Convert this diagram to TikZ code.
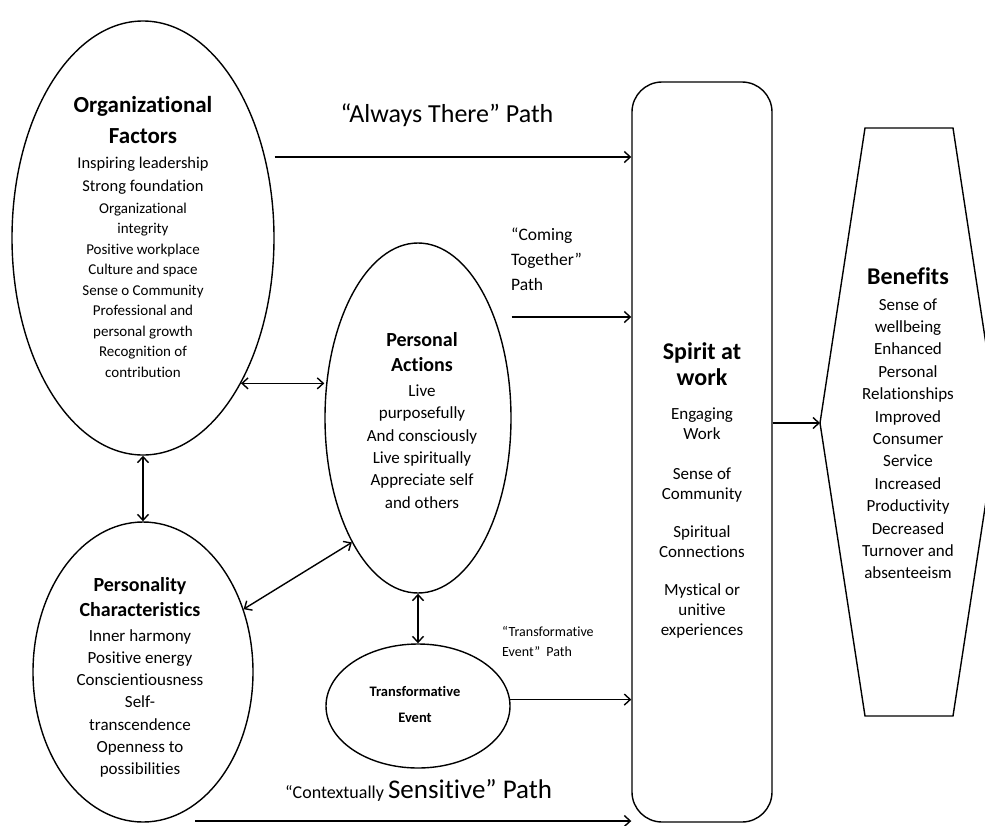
\documentclass[tikz,border=0pt]{standalone}
\usepackage{fontspec}
\setmainfont{Carlito}[Ligatures=NoCommon]
\usetikzlibrary{arrows.meta,shapes.geometric,calc}
\newcommand\myfs[2]{\fontsize{#1}{#2}\selectfont\lineskiplimit=-100pt\relax}
\newcommand\Tbf[1]{\fontsize{#1}{#1}\selectfont\bfseries}
\newcommand\Trm[1]{\fontsize{#1}{#1}\selectfont}
\begin{document}
\begin{tikzpicture}[x=1pt,y=-1pt,
  >={Straight Barb[length=6pt,width=11pt]},
  oval/.style={draw,ellipse,line width=1.4pt,inner sep=0pt},
  txt/.style={align=center,inner sep=0pt,anchor=north},
  lbl/.style={inner sep=0pt},
  arr/.style={line width=1.4pt,->},
  darr/.style={line width=1.4pt,<->}]
\useasboundingbox (0,0) rectangle (985,825);

% shapes
\node[oval,minimum width=262pt,minimum height=434pt] (org) at (143,238) {};
\node[oval,minimum width=186pt,minimum height=350pt] (pa) at (418,418) {};
\node[oval,minimum width=220pt,minimum height=300pt] (pers) at (143,672) {};
\node[oval,minimum width=184pt,minimum height=124pt] (te) at (418,706) {};
\node[draw,rounded corners=30pt,line width=1.4pt,minimum width=140pt,minimum height=740pt,inner sep=0pt] (spirit) at (702,452) {};
\coordinate (b1) at (865,128);
\coordinate (b2) at (953,128);
\coordinate (b3) at (998,423);
\coordinate (b4) at (953,716);
\coordinate (b5) at (865,716);
\coordinate (b6) at (820,423);
\draw[line width=1.4pt,line join=miter] (b1)--(b2)--(b3)--(b4)--(b5)--(b6)--cycle;

% texts
\node[txt,font=\myfs{15}{20.5}] (orgT) at (143,96) {\Tbf{23}Organizational\\[10.5pt]
\Tbf{23}Factors\\[4.5pt]
\Trm{16.5}Inspiring leadership\\[2.5pt]
\Trm{16.5}Strong foundation\\[1.5pt]
Organizational\\integrity\\Positive workplace\\Culture and space\\Sense o Community\\Professional and\\personal growth\\Recognition of\\contribution};

\node[txt,font=\myfs{17}{22.4}] (paT) at (422,332) {\Tbf{20}Personal\\[2.6pt]
\Tbf{20}Actions\\[2.6pt]
Live\\purposefully\\And consciously\\Live spiritually\\Appreciate self\\and others};

\node[txt,font=\myfs{17}{22.2}] (persT) at (140,577) {\Tbf{20}Personality\\[2.8pt]
\Tbf{20}Characteristics\\[2.8pt]
Inner harmony\\Positive energy\\Conscientiousness\\Self-\\transcendence\\Openness to\\possibilities};

\node[txt,font=\myfs{14.5}{26}] (teT) at (415,686) {\bfseries Transformative\\\bfseries Event};

\node[txt,font=\myfs{17}{20}] (spiritT) at (702,342) {\Tbf{24}Spirit at\\[6pt]
\Tbf{24}work\\[14pt]
Engaging\\Work\\[20pt]
Sense of\\Community\\[18pt]
Spiritual\\Connections\\[18pt]
Mystical or\\unitive\\experiences};

\node[txt,font=\myfs{17}{22.4}] (benT) at (908,267) {\Tbf{24}Benefits\\[3.6pt]
Sense of\\wellbeing\\Enhanced\\Personal\\Relationships\\Improved\\Consumer\\Service\\Increased\\Productivity\\Decreased\\Turnover and\\absenteeism};

% path labels
\node[lbl,font=\myfs{26}{26}] (lblAT) at (447,115) {“Always There” Path};
\node[lbl,align=left,anchor=north west,font=\myfs{17.5}{25}] (lblCT) at (511,228) {“Coming\\Together”\\Path};
\node[lbl,align=left,anchor=north west,font=\myfs{14}{20}] (lblTE) at (502,626) {“Transformative\\Event”\ \ Path};
\node[lbl,anchor=base west] (lblCS) at (285,798) {\Trm{18}“Contextually \Trm{27}Sensitive” Path};

% connectors
\coordinate (yAT) at (0,157);
\coordinate (yCT) at (0,317);
\coordinate (csA) at (195,821);
\draw[arr] (org.east |- yAT) -- (spirit.west |- yAT);
\draw[arr] (pa.east |- yCT) -- (spirit.west |- yCT);
\draw[arr] (te.4) -- (spirit.west |- te.4);
\draw[arr] (csA) -- (spirit.west |- csA);
\draw[arr] (spirit.east |- b6) -- (b6);
\draw[darr] (org.304) -- (org.304 -| pa.west);
\draw[darr] (org.south) -- (pers.north);
\draw[darr] (pers.32) -- (pa.242);
\draw[darr] (pa.south) -- (te.north);
\end{tikzpicture}
\end{document}
